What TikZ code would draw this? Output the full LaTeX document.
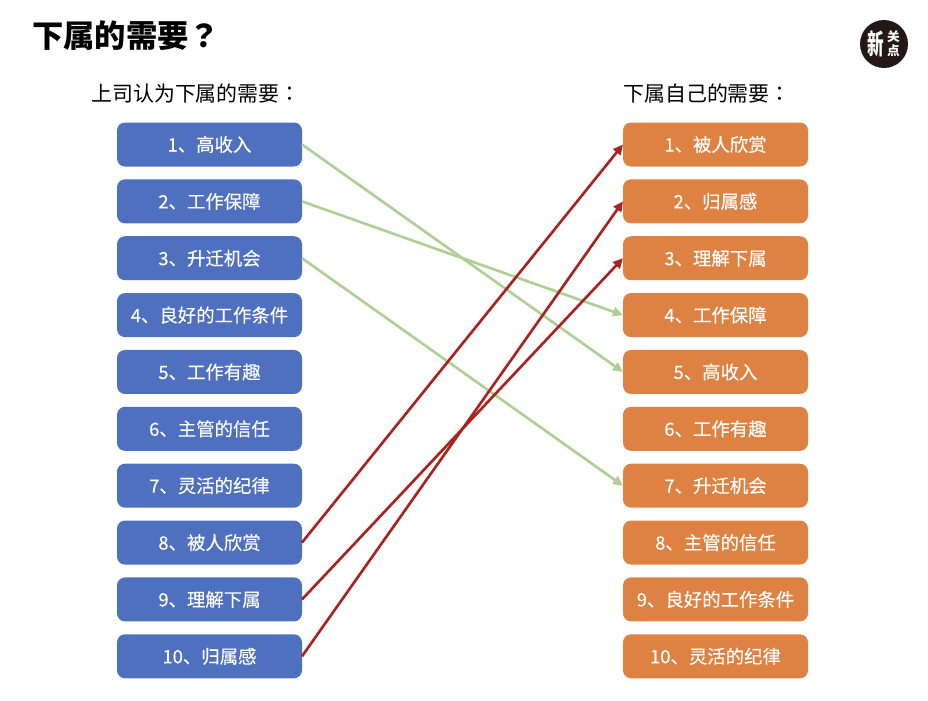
\documentclass[tikz,border=0pt]{standalone}
\usepackage{fontspec}
\usepackage{graphicx}
\usepackage{xcolor}
\usepackage{tikz}
\usetikzlibrary{positioning, arrows.meta}
\setmainfont{Noto Sans CJK SC}
\newfontfamily\puncfont{Noto Sans CJK TC}
\newfontfamily\itemfont[FakeBold=0.25]{Noto Sans CJK SC}
\definecolor{Boss}{HTML}{4E70BE}
\definecolor{Staff}{HTML}{DD8243}
\definecolor{Match}{HTML}{AFD095}
\definecolor{Miss}{HTML}{A9231F}
\definecolor{Badge}{HTML}{231815}

\begin{document}
\begin{tikzpicture}[
      x=0.75pt, y=-0.75pt,
      font=\fontsize{13.8pt}{16pt}\itemfont,
      item/.style={
        rounded corners=6pt, text=white, inner sep=0pt, outer sep=0pt,
        minimum width=138.75pt, minimum height=33pt
      },
      itemBoss/.style={item, fill=Boss},
      itemStaff/.style={item, fill=Staff},
      head/.style={anchor=west, inner sep=0pt, font=\fontsize{15.7pt}{20pt}\rmfamily},
      logoText/.style={text=white, inner sep=0pt},
      linkOk/.style={draw=Match, line width=2pt, -{Triangle[length=7.5pt,width=7pt]}},
      linkBad/.style={draw=Miss, line width=2pt, -{Triangle[length=7.5pt,width=7pt]}}
    ]
      \useasboundingbox (0,0) rectangle (928,700);
      \node[anchor=west, inner sep=0pt, font=\fontsize{23.5pt}{28pt}\rmfamily\bfseries] (title) at (32,36) {下属的需要{\puncfont\bfseries ？}};
      \node[fill=Badge, circle, minimum size=36pt, inner sep=0pt] (logo) at (884,44) {};
      \node[logoText, font=\fontsize{16pt}{16pt}\rmfamily\bfseries] (logoa) at (875.5,44) {\scalebox{.78}[1.3]{新}};
      \node[logoText, font=\fontsize{9.5pt}{9.5pt}\rmfamily\bfseries] (logob) at (893.5,37) {关};
      \node[logoText, font=\fontsize{9.5pt}{9.5pt}\rmfamily\bfseries] (logoc) at (893.5,51) {点};

      \node[head] (headl) at (91,94) {上司认为下属的需要{\puncfont ：}};
      \node[head] (headr) at (623,94) {下属自己的需要{\puncfont ：}};

      \node[itemBoss]                        (l1)  at (209.5,144.5) {1、高收入};
      \node[itemBoss, below=9.65pt of l1]    (l2)  {2、工作保障};
      \node[itemBoss, below=9.65pt of l2]    (l3)  {3、升迁机会};
      \node[itemBoss, below=9.65pt of l3]    (l4)  {4、良好的工作条件};
      \node[itemBoss, below=9.65pt of l4]    (l5)  {5、工作有趣};
      \node[itemBoss, below=9.65pt of l5]    (l6)  {6、主管的信任};
      \node[itemBoss, below=9.65pt of l6]    (l7)  {7、灵活的纪律};
      \node[itemBoss, below=9.65pt of l7]    (l8)  {8、被人欣赏};
      \node[itemBoss, below=9.65pt of l8]    (l9)  {9、理解下属};
      \node[itemBoss, below=9.65pt of l9]    (l10) {10、归属感};

      \node[itemStaff]                       (r1)  at (715.5,144.5) {1、被人欣赏};
      \node[itemStaff, below=9.65pt of r1]   (r2)  {2、归属感};
      \node[itemStaff, below=9.65pt of r2]   (r3)  {3、理解下属};
      \node[itemStaff, below=9.65pt of r3]   (r4)  {4、工作保障};
      \node[itemStaff, below=9.65pt of r4]   (r5)  {5、高收入};
      \node[itemStaff, below=9.65pt of r5]   (r6)  {6、工作有趣};
      \node[itemStaff, below=9.65pt of r6]   (r7)  {7、升迁机会};
      \node[itemStaff, below=9.65pt of r7]   (r8)  {8、主管的信任};
      \node[itemStaff, below=9.65pt of r8]   (r9)  {9、良好的工作条件};
      \node[itemStaff, below=9.65pt of r9]   (r10) {10、灵活的纪律};

      \draw[linkOk] (l1.east) -- (r5.west);
      \draw[linkOk] (l2.east) -- (r4.west);
      \draw[linkOk] (l3.east) -- (r7.west);
      \draw[linkBad] (l8.east) -- (r1.west);
      \draw[linkBad] (l9.east) -- (r3.west);
      \draw[linkBad] (l10.east) -- (r2.west);
    \end{tikzpicture}
\end{document}
